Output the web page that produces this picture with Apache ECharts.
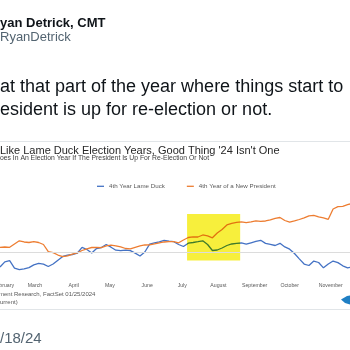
<!DOCTYPE html>
<html>
<head>
<meta charset="utf-8">
<script src="https://cdn.jsdelivr.net/npm/echarts@6/dist/echarts.min.js"></script>
<style>
  html, body { margin: 0; padding: 0; background: #ffffff; }
  #chart { width: 350px; height: 350px; }
</style>
</head>
<body>
<div id="chart"></div>
<script>
// Day of year for each sample point
const days = [46, 50, 54, 58, 62, 66, 70, 74, 78, 82, 86, 90, 94, 98, 102, 106, 110, 114, 118, 122,
  126, 130, 134, 138, 142, 146, 150, 154, 158, 162, 166, 170, 174, 178, 182, 186, 190, 194, 198, 202,
  206, 210, 214, 218, 222, 226, 230, 234, 238, 242, 246, 250, 254, 258, 262, 266, 270, 274, 278, 282,
  286, 290, 294, 298, 302, 306, 310, 314, 318, 322, 326, 330, 334, 336];

// Year-to-date % change, 4th year with a lame duck president
const lameDuck = [-3.63, -2.33, -2.03, -3.88, -4.28, -4.08, -3.78, -3.08, -2.73, -2.90,
  -3.50, -2.88, -1.93, -0.98, -0.65, -0.50, -0.18, 1.30, 0.75, -0.13,
  0.98, 1.25, 2.00, 1.33, 0.58, 0.45, 0.60, 0.48, -0.15, -0.88,
  0.13, 2.08, 2.38, 2.65, 3.03, 2.83, 2.70, 2.00, 1.50, 2.33,
  2.50, 2.70, 2.93, 2.00, 0.50, 0.63, 1.13, 1.75, 2.13, 2.28,
  2.38, 2.08, 2.43, 2.78, 3.05, 2.28, 2.05, 1.75, 2.30, 1.40,
  0.83, -0.25, -1.58, -2.88, -3.25, -2.13, -2.50, -3.83, -2.88, -2.13,
  -2.53, -3.33, -3.83, -3.70];

// Year-to-date % change, 4th year of a new president
const newPresident = [1.30, 1.38, 1.30, 2.13, 2.93, 2.63, 2.50, 2.70, 2.50, 2.00,
  0.20, -0.05, -0.63, -1.05, -0.83, -0.38, -0.08, 0.50, 0.93, 1.25,
  1.30, 1.23, 1.63, 1.83, 1.68, 1.38, 1.00, 0.93, 1.30, 1.63,
  1.88, 1.93, 2.13, 2.43, 2.63, 2.70, 2.73, 2.43, 3.13, 3.75,
  3.93, 3.88, 4.38, 4.13, 3.68, 4.88, 5.75, 6.88, 7.28, 7.53,
  7.68, 7.48, 7.68, 7.93, 7.78, 7.88, 8.13, 8.53, 8.75, 8.00,
  7.58, 7.88, 8.25, 8.68, 9.18, 9.30, 8.93, 8.68, 8.30, 10.88,
  11.45, 11.55, 11.98, 12.13];

// Month tick labels and the day each one sits on
const monthDays = [49, 75, 107, 137, 168, 197, 227, 257, 286, 320];
const monthNames = ['February', 'March', 'April', 'May', 'June', 'July', 'August',
  'September', 'October', 'November'];

// Highlighted summer window (days) and its vertical extent (%)
const highlightDays = [201, 245];
const highlightValues = [-2, 9.6];

const seriesNames = ['4th Year Lame Duck', '4th Year of a New President'];

const FONT = '"Liberation Sans", Arial, sans-serif';
const BLUE = '#4472c4';
const ORANGE = '#ed7d31';
const BLUE_HL = '#3f7a2a';
const ORANGE_HL = '#e2720f';

const pairs = (vals) => days.map((d, i) => [d, vals[i]]);

function label(text, x, y, size, color, weight) {
  return {
    type: 'text', x: x, y: y, silent: true,
    style: {
      text: text, fontSize: size, fontFamily: FONT, fontWeight: weight || 'normal',
      fill: color, align: 'left', verticalAlign: 'middle'
    }
  };
}

const chart = echarts.init(document.getElementById('chart'), null, { renderer: 'canvas' });

chart.setOption({
  animation: false,
  backgroundColor: '#ffffff',
  textStyle: { fontFamily: FONT },
  grid: { left: 0, right: 0, top: 192.5, bottom: 69.5, containLabel: false, outerBoundsMode: 'none' },
  legend: {
    data: [
      { name: seriesNames[0], itemStyle: { color: BLUE } },
      { name: seriesNames[1], itemStyle: { color: ORANGE } }
    ],
    left: 97, top: 183.3,
    icon: 'rect', itemWidth: 7, itemHeight: 1.3, itemGap: 22,
    padding: 0,
    textStyle: { fontSize: 6.2, color: '#595959', fontFamily: FONT }
  },
  xAxis: {
    type: 'value', min: 46, max: 336,
    axisLine: { show: false }, axisTick: { show: false }, splitLine: { show: false },
    axisLabel: {
      customValues: monthDays,
      formatter: (v) => monthNames[monthDays.indexOf(v)] || '',
      fontSize: 5.2, color: '#595959', margin: 3, fontFamily: FONT,
      hideOverlap: false
    }
  },
  yAxis: { type: 'value', min: -7, max: 15, show: false },
  visualMap: [
    { type: 'piecewise', show: false, seriesIndex: 2, dimension: 0,
      pieces: [{ gte: highlightDays[0], lte: highlightDays[1], color: BLUE_HL }],
      outOfRange: { color: BLUE } },
    { type: 'piecewise', show: false, seriesIndex: 3, dimension: 0,
      pieces: [{ gte: highlightDays[0], lte: highlightDays[1], color: ORANGE_HL }],
      outOfRange: { color: ORANGE } }
  ],
  series: [
    { // zero reference line
      type: 'line', data: [], z: 0, silent: true,
      markLine: {
        silent: true, symbol: 'none', label: { show: false },
        lineStyle: { color: '#dcdcdc', width: 1, type: 'solid' },
        data: [{ yAxis: 0 }]
      }
    },
    { // highlighted window
      type: 'line', data: [], z: 1, silent: true,
      markArea: {
        silent: true,
        itemStyle: { color: '#f7ef3c', opacity: 1 },
        data: [[{ xAxis: highlightDays[0], yAxis: highlightValues[1] },
                { xAxis: highlightDays[1], yAxis: highlightValues[0] }]]
      }
    },
    {
      name: seriesNames[0], type: 'line', data: pairs(lameDuck), z: 3,
      symbol: 'none', lineStyle: { width: 1.3 }
    },
    {
      name: seriesNames[1], type: 'line', data: pairs(newPresident), z: 4,
      symbol: 'none', lineStyle: { width: 1.3 }
    }
  ],
  graphic: [
    label('yan Detrick, CMT', 0, 23, 13, '#0f1419', 'bold'),
    label('RyanDetrick', 0, 37.6, 13, '#536471'),
    label('at that part of the year where things start to', 0, 87, 18, '#0f1419'),
    label('esident is up for re-election or not.', 0, 110.3, 18, '#0f1419'),
    { type: 'line', silent: true, shape: { x1: 0, y1: 141.5, x2: 350, y2: 141.5 },
      style: { stroke: '#e1e5e8', lineWidth: 1 } },
    label('Like Lame Duck Election Years, Good Thing \'24 Isn\'t One', 0, 150.8, 11, '#262626'),
    label('oes In An Election Year If The President Is Up For Re-Election Or Not', 0, 158.5, 6.8, '#404040'),
    label('ment Research, FactSet 01/25/2024', -1, 294.7, 6, '#595959'),
    label('urrent)', 0, 302.6, 6, '#595959'),
    { type: 'polygon', silent: true,
      shape: { points: [[341, 299.5], [347, 296], [350, 295.5], [350, 304.5], [345, 303]] },
      style: { fill: '#1f7fc4' } },
    { type: 'line', silent: true, shape: { x1: 0, y1: 309.5, x2: 350, y2: 309.5 },
      style: { stroke: '#e1e5e8', lineWidth: 1 } },
    label('/18/24', 0, 338.5, 15, '#536471')
  ]
});
</script>
</body>
</html>
